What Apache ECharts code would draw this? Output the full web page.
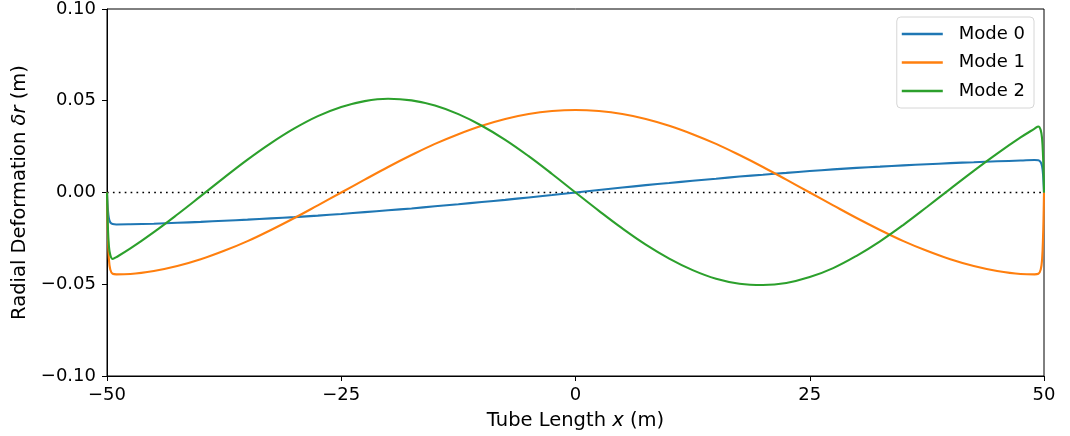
<!DOCTYPE html>
<html>
<head>
<meta charset="utf-8">
<script src="https://cdn.jsdelivr.net/npm/echarts@6/dist/echarts.min.js"></script>
<style>
html,body{margin:0;padding:0;background:#fff;}
#chart{width:1070px;height:436px;}
</style>
</head>
<body>
<div id="chart"></div>
<script>
// Shared x positions (m)
const xValues = [-50, -49.95, -49.9, -49.8, -49.65, -49.4, -49,
  -47.5, -45, -42.5, -40, -37.5, -35, -32.5, -30, -27.5, -25, -22.5, -20, -17.5, -15, -12.5, -10, -7.5, -5, -2.5,
  0, 2.5, 5, 7.5, 10, 12.5, 15, 17.5, 20, 22.5, 25, 27.5, 30, 32.5, 35, 37.5, 40, 42.5, 45, 47.5,
  49, 49.4, 49.65, 49.8, 49.9, 49.95, 50];

const mode0 = [0, -0.0055, -0.0095, -0.0140, -0.0163, -0.0172, -0.0174,
  -0.0173, -0.0170, -0.0165, -0.0160, -0.0154, -0.0148, -0.0141, -0.0134, -0.0126, -0.0117, -0.0107, -0.0097, -0.0087, -0.0075, -0.0064, -0.0052, -0.0040, -0.0027, -0.0014,
  0, 0.0014, 0.0027, 0.0040, 0.0052, 0.0064, 0.0075, 0.0087, 0.0097, 0.0107, 0.0117, 0.0126, 0.0134, 0.0141, 0.0148, 0.0154, 0.0160, 0.0165, 0.0170, 0.0174,
  0.0177, 0.0176, 0.0165, 0.0142, 0.0097, 0.0056, 0];

const mode1 = [0, -0.0140, -0.0240, -0.0360, -0.0420, -0.0443, -0.0446,
  -0.0444, -0.0428, -0.0401, -0.0364, -0.0318, -0.0265, -0.0204, -0.0139, -0.0070, 0, 0.0070, 0.0139, 0.0204, 0.0265, 0.0318, 0.0364, 0.0401, 0.0428, 0.0444,
  0.0450, 0.0444, 0.0428, 0.0401, 0.0364, 0.0318, 0.0265, 0.0204, 0.0139, 0.0070, 0, -0.0070, -0.0139, -0.0204, -0.0265, -0.0318, -0.0364, -0.0401, -0.0428, -0.0444,
  -0.0446, -0.0443, -0.0420, -0.0360, -0.0240, -0.0140, 0];

const mode2 = [0, -0.0110, -0.0195, -0.0290, -0.0340, -0.0362, -0.0352,
  -0.0305, -0.0216, -0.0120, -0.0020, 0.0081, 0.0179, 0.0269, 0.0349, 0.0416, 0.0466, 0.0498, 0.0511, 0.0502, 0.0474, 0.0427, 0.0364, 0.0287, 0.0198, 0.0101,
  0, -0.0100, -0.0196, -0.0284, -0.0360, -0.0423, -0.0470, -0.0497, -0.0504, -0.0493, -0.0461, -0.0412, -0.0345, -0.0266, -0.0176, -0.0079, 0.0020, 0.0118, 0.0212, 0.0300,
  0.0348, 0.0360, 0.0340, 0.0290, 0.0195, 0.0110, 0];

const seriesNames = ['Mode 0', 'Mode 1', 'Mode 2'];
const seriesColors = ['#1f77b4', '#ff7f0e', '#2ca02c'];
const xTicks = [-50, -25, 0, 25, 50];
const yTicks = [-0.10, -0.05, 0.00, 0.05, 0.10];

const pair = (ys) => xValues.map((x, i) => [x, ys[i]]);
const fmtMinus = (s) => s.replace('-', '\u2212');
const FONT = 'DejaVu Sans';

const chart = echarts.init(document.getElementById('chart'), null, {renderer: 'canvas'});
const lineSeries = [mode0, mode1, mode2].map((ys, i) => ({
  name: seriesNames[i],
  type: 'line',
  data: pair(ys),
  symbol: 'none',
  smooth: 0.4,
  lineStyle: {color: seriesColors[i], width: 2.1},
  itemStyle: {color: seriesColors[i]},
  z: 3 + i,
  animation: false
}));

lineSeries.push({
  name: 'zero',
  type: 'line',
  data: [[xTicks[0], 0], [xTicks[xTicks.length - 1], 0]],
  symbol: 'none',
  lineStyle: {color: '#000', width: 1.7, type: [1.7, 4.2]},
  z: 2,
  animation: false,
  silent: true
});

chart.setOption({
  animation: false,
  backgroundColor: '#fff',
  textStyle: {fontFamily: FONT},
  grid: {left: 107, top: 9, width: 937, height: 367, containLabel: false,
    show: true, borderColor: '#000', borderWidth: 1, backgroundColor: 'transparent'},
  legend: {
    data: seriesNames,
    orient: 'vertical',
    right: 36,
    top: 17,
    itemWidth: 41,
    itemHeight: 14,
    itemGap: 10.5,
    padding: [8, 9, 8, 5],
    backgroundColor: '#fff',
    borderColor: '#d6d6d6',
    borderWidth: 1,
    borderRadius: 4,
    textStyle: {fontFamily: FONT, fontSize: 18, color: '#000', padding: [0, 0, 0, 11]},
    icon: 'path://M0,0 L100,0 L100,6 L0,6 Z'
  },
  xAxis: {
    type: 'value',
    min: xTicks[0],
    max: xTicks[xTicks.length - 1],
    interval: 25,
    name: '{n|Tube Length }{i|x}{n| (m)}',
    nameLocation: 'middle',
    nameGap: 35,
    nameTextStyle: {
      rich: {
        n: {fontFamily: FONT, fontSize: 19.5, color: '#000'},
        i: {fontFamily: FONT, fontSize: 19.5, color: '#000', fontStyle: 'italic'}
      }
    },
    axisLine: {show: true, onZero: false, lineStyle: {color: '#000', width: 1}},
    axisTick: {show: true, length: 5, inside: false, lineStyle: {color: '#000', width: 1}},
    axisLabel: {fontFamily: FONT, fontSize: 18, color: '#000', margin: 10.5,
      formatter: (v) => fmtMinus(String(v))},
    splitLine: {show: false}
  },
  yAxis: {
    type: 'value',
    min: yTicks[0],
    max: yTicks[yTicks.length - 1],
    interval: 0.05,
    name: '{n|Radial Deformation }{i|δr}{n| (m)}',
    nameLocation: 'middle',
    nameGap: 74,
    nameRotate: 90,
    nameTextStyle: {
      rich: {
        n: {fontFamily: FONT, fontSize: 19.5, color: '#000'},
        i: {fontFamily: FONT, fontSize: 19.5, color: '#000', fontStyle: 'italic'}
      }
    },
    axisLine: {show: true, onZero: false, lineStyle: {color: '#000', width: 1}},
    axisTick: {show: true, length: 5, inside: false, lineStyle: {color: '#000', width: 1}},
    axisLabel: {fontFamily: FONT, fontSize: 18, color: '#000', margin: 11,
      formatter: (v) => fmtMinus(v.toFixed(2))},
    splitLine: {show: false}
  },
  series: lineSeries
});
</script>
</body>
</html>
